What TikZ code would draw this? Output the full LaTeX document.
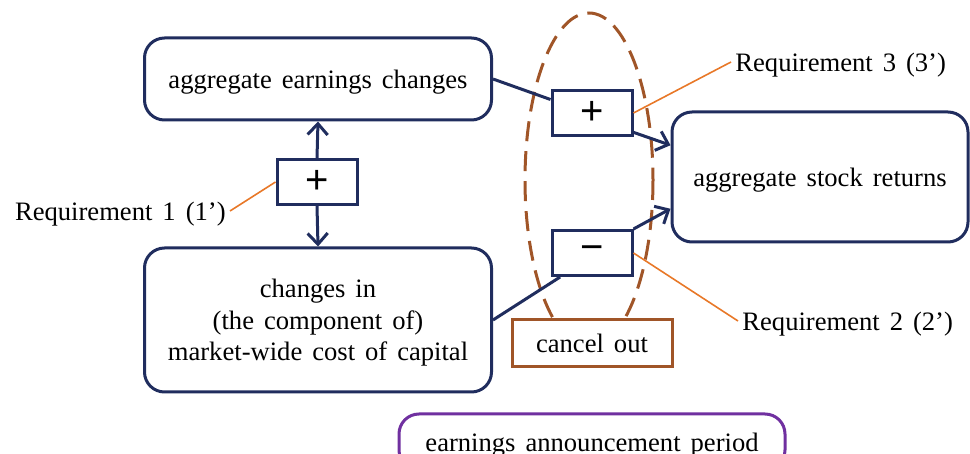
\documentclass[tikz,border=0pt]{standalone}
\usepackage{fontspec}
\setmainfont{Liberation Serif}[WordSpace=1.5]
\setsansfont{Liberation Sans}
\usetikzlibrary{arrows.meta}
\definecolor{navy}{RGB}{32,45,94}
\definecolor{rust}{RGB}{160,85,40}
\definecolor{tangerine}{RGB}{232,120,40}
\definecolor{violet}{RGB}{112,48,160}
\begin{document}
\begin{tikzpicture}[x=0.5pt, y=-0.5pt, font=\fontsize{13.3}{15.75}\selectfont,
    >={Straight Barb[length=5.5pt,width=10pt]},
    blk/.style={draw=navy, line width=1.5pt, rounded corners=10pt, align=center, inner sep=0pt, text depth=0pt},
    sgn/.style={draw=navy, line width=1.5pt, fill=white, minimum width=40pt, minimum height=22.5pt,
      inner sep=0pt, font=\sffamily\fontsize{20}{20}\selectfont},
    link/.style={navy, line width=1.5pt},
    lead/.style={tangerine, line width=0.8pt},
    req/.style={inner sep=2pt, text depth=0pt}]
  \useasboundingbox (0,0) rectangle (970,454);
  % the grouping ellipse goes under everything else
  \draw[rust, line width=1.5pt, dash pattern=on 10pt off 5pt] (589,180) ellipse [x radius=64, y radius=167];
  \node[draw=rust, line width=1.5pt, fill=white, minimum width=80pt, minimum height=23.5pt, text depth=0pt] (cancel) at (592,343) {cancel out};
  \node[blk, minimum width=173.5pt, minimum height=41pt] (earn) at (318,79) {aggregate earnings changes};
  \node[blk, minimum width=173.5pt, minimum height=72pt] (cost) at (318,320)
    {changes in\\ (the component of)\\ market-wide cost of capital};
  \node[blk, minimum width=148pt, minimum height=65pt] (ret) at (820,177) {aggregate stock returns};
  \node[blk, draw=violet, minimum width=193pt, minimum height=28pt] (period) at (592,442) {earnings announcement period};
  \node[sgn] (s1) at (317,182) {+};
  \node[sgn] (s3) at (592,113) {+};
  \node[sgn] (s2) at (592,253) {−};
  \node[req, anchor=east] (r1) at (230,211) {Requirement 1 (1’)};
  \node[req, anchor=west] (r3) at (731,62) {Requirement 3 (3’)};
  \node[req, anchor=west] (r2) at (738,321) {Requirement 2 (2’)};
  \draw[link, ->] (s1.north) -- (earn.south);
  \draw[link, ->] (s1.south) -- (cost.north);
  \draw[link] (earn.east) -- (s3.162);
  \draw[link, ->] (s3.335) -- (ret.168);
  \draw[link] (cost.east) -- (s2.217);
  \draw[link, ->] (s2.north east) -- (ret.192);
  \draw[lead] (r1.east) -- (s1.west);
  \draw[lead] (s3.east) -- (r3.west);
  \draw[lead] (s2.east) -- (r2.west);
\end{tikzpicture}
\end{document}
